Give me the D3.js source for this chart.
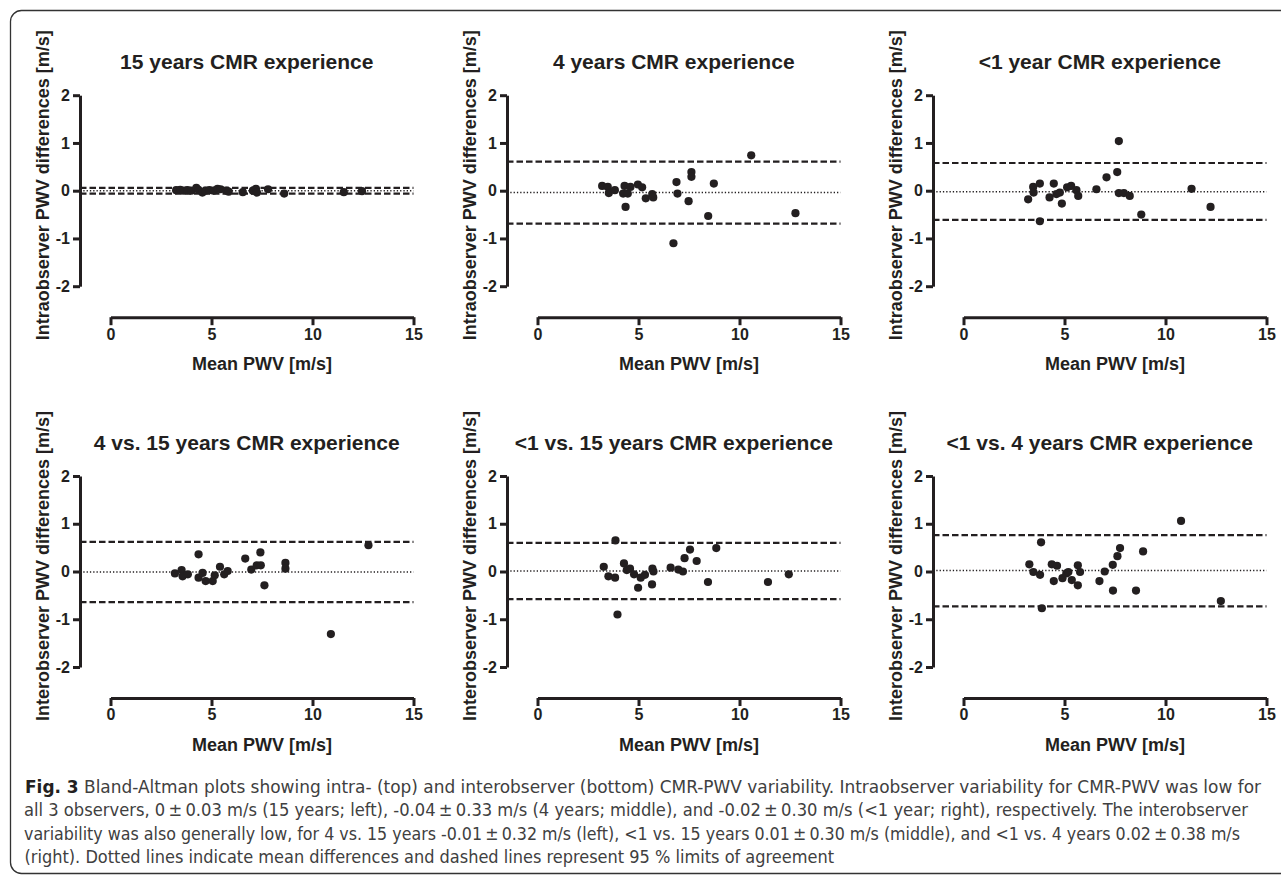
<!DOCTYPE html>
<html>
<head>
<meta charset="utf-8">
<script src="https://cdn.jsdelivr.net/npm/d3@7"></script>
<style>
  html, body { margin: 0; padding: 0; background: #fff; }
  svg { display: block; }
</style>
</head>
<body>
<svg id="chart" width="1281" height="877"></svg>
<script>
// ---------------- DATA ----------------
const titles = [
  "15 years CMR experience",
  "4 years CMR experience",
  "<1 year CMR experience",
  "4 vs. 15 years CMR experience",
  "<1 vs. 15 years CMR experience",
  "<1 vs. 4 years CMR experience"
];
const yLabels = [
  "Intraobserver PWV differences [m/s]",
  "Intraobserver PWV differences [m/s]",
  "Intraobserver PWV differences [m/s]",
  "Interobserver PWV differences [m/s]",
  "Interobserver PWV differences [m/s]",
  "Interobserver PWV differences [m/s]"
];
const xLabel = "Mean PWV [m/s]";
const xTicks = [0, 5, 10, 15];
const yTicks = [-2, -1, 0, 1, 2];

const meanDiff = [0, -0.04, -0.02, -0.01, 0.01, 0.02];
const upperLoA = [0.06, 0.61, 0.58, 0.62, 0.60, 0.76];
const lowerLoA = [-0.06, -0.69, -0.61, -0.64, -0.58, -0.73];

// [mean PWV, difference]
const pts15 = [[3.25,0.01],[3.45,0.02],[3.6,0.0],[3.8,0.01],[4.0,0.0],[4.25,0.06],[4.35,0.02],[4.55,-0.04],[4.7,0.0],[4.9,0.01],[5.1,0.0],[5.3,0.04],[5.45,0.03],[5.75,0.0],[5.85,-0.02],[6.55,-0.03],[7.05,0.0],[7.2,0.04],[7.25,-0.04],[7.8,0.03],[8.6,-0.06],[11.55,-0.03],[12.45,-0.01]];
const pts4 = [[3.20,0.10],[3.48,0.08],[3.53,-0.05],[3.83,0.01],[4.31,0.10],[4.24,-0.06],[4.47,-0.06],[4.60,0.08],[4.36,-0.34],[4.97,0.13],[5.18,0.07],[5.36,-0.16],[5.68,-0.07],[5.73,-0.14],[6.88,0.18],[6.93,-0.06],[6.73,-1.10],[7.48,-0.22],[7.62,0.39],[7.62,0.29],[8.73,0.15],[8.45,-0.53],[10.58,0.74],[12.77,-0.47]];
const ptsLt1 = [[7.69,1.04],[7.61,0.39],[7.08,0.28],[6.58,0.03],[7.69,-0.05],[7.94,-0.05],[8.23,-0.11],[8.80,-0.50],[11.29,0.04],[12.23,-0.34],[3.20,-0.18],[3.45,0.08],[3.47,-0.04],[3.78,0.15],[3.78,-0.64],[4.26,-0.14],[4.47,0.15],[4.60,-0.07],[4.77,-0.04],[4.87,-0.27],[5.13,0.07],[5.33,0.10],[5.59,0.01],[5.68,-0.11]];
const pts4v15 = [[3.19,-0.04],[3.52,0.03],[3.57,-0.10],[3.83,-0.06],[4.36,0.36],[4.36,-0.13],[4.56,-0.03],[4.71,-0.20],[5.06,-0.20],[5.16,-0.08],[5.42,0.10],[5.63,-0.06],[5.80,0.01],[6.67,0.27],[6.97,0.04],[7.24,0.13],[7.44,0.13],[7.42,0.40],[7.62,-0.29],[8.66,0.18],[8.66,0.06],[10.91,-1.31],[12.77,0.55]];
const ptsLt1v15 = [[3.86,0.65],[3.28,0.10],[3.51,-0.10],[3.84,-0.13],[3.96,-0.90],[4.28,0.17],[4.42,0.03],[4.58,0.06],[4.78,-0.06],[4.98,-0.34],[5.11,-0.13],[5.32,-0.07],[5.69,0.06],[5.74,0.00],[5.67,-0.27],[6.59,0.08],[6.97,0.04],[7.20,0.00],[7.28,0.28],[7.55,0.46],[7.88,0.22],[8.44,-0.22],[8.85,0.49],[11.41,-0.22],[12.44,-0.06]];
const ptsLt1v4 = [[10.77,1.06],[3.84,0.61],[3.26,0.15],[3.46,-0.01],[3.79,-0.07],[3.88,-0.77],[4.37,0.15],[4.63,0.12],[4.47,-0.20],[4.90,-0.14],[5.09,-0.04],[5.19,-0.01],[5.36,-0.18],[5.66,0.13],[5.77,-0.01],[5.66,-0.29],[6.73,-0.20],[6.99,0.00],[7.39,0.14],[7.62,0.32],[7.75,0.49],[7.40,-0.40],[8.54,-0.40],[8.89,0.42],[12.74,-0.62]];
const panelPoints = [pts15, pts4, ptsLt1, pts4v15, ptsLt1v15, ptsLt1v4];

const captionLines = [
  "Bland-Altman plots showing intra- (top) and interobserver (bottom) CMR-PWV variability. Intraobserver variability for CMR-PWV was low for",
  "all 3 observers, 0\u2009\u00b1\u20090.03 m/s (15 years; left), -0.04\u2009\u00b1\u20090.33 m/s (4 years; middle), and -0.02\u2009\u00b1\u20090.30 m/s (<1 year; right), respectively. The interobserver",
  "variability was also generally low, for 4 vs. 15 years -0.01\u2009\u00b1\u20090.32 m/s (left), <1 vs. 15 years 0.01\u2009\u00b1\u20090.30 m/s (middle), and <1 vs. 4 years 0.02\u2009\u00b1\u20090.38 m/s",
  "(right). Dotted lines indicate mean differences and dashed lines represent 95 % limits of agreement"
];

// ---------------- LAYOUT ----------------
const ink = "#231f20";
const font = "'Liberation Sans', Arial, Helvetica, sans-serif";
const colAxisX = [80, 507, 933];
const rowZeroY = [190.7, 571.5];

const svg = d3.select("#chart");

// frame
svg.append("rect")
  .attr("x", 10.5).attr("y", 10.5)
  .attr("width", 1300).attr("height", 863)
  .attr("rx", 11).attr("ry", 11)
  .attr("fill", "none").attr("stroke", "#333").attr("stroke-width", 1.3);

panelPoints.forEach((pts, i) => {
  const col = i % 3, row = Math.floor(i / 3);
  const ax = colAxisX[col];
  const zy = rowZeroY[row];
  const x = d3.scaleLinear().domain([0, 15]).range([ax + 30.5, ax + 333.5]);
  const y = d3.scaleLinear().domain([-2, 2]).range([zy + 95.5, zy - 95.5]);
  const g = svg.append("g");

  // reference lines
  const lineX1 = ax, lineX2 = x(15);
  [upperLoA[i], lowerLoA[i]].forEach(v => {
    g.append("line")
      .attr("x1", lineX1).attr("x2", lineX2)
      .attr("y1", y(v)).attr("y2", y(v))
      .attr("stroke", ink).attr("stroke-width", 2.2)
      .attr("stroke-dasharray", "6.5,3");
  });
  g.append("line")
    .attr("x1", lineX1).attr("x2", lineX2)
    .attr("y1", y(meanDiff[i])).attr("y2", y(meanDiff[i]))
    .attr("stroke", ink).attr("stroke-width", 1.5)
    .attr("stroke-dasharray", "1.3,2");

  // points
  g.selectAll("circle.pt").data(pts).enter().append("circle")
    .attr("class", "pt")
    .attr("cx", d => x(d[0])).attr("cy", d => y(d[1]))
    .attr("r", 4.1).attr("fill", ink);

  // y axis
  const yAxis = g.append("g")
    .attr("transform", `translate(${ax},0)`)
    .call(d3.axisLeft(y).tickValues(yTicks).tickSize(7).tickSizeOuter(0).tickPadding(3).tickFormat(d3.format("d")));
  // x axis
  const xAxis = g.append("g")
    .attr("transform", `translate(0,${zy + 126.5})`)
    .call(d3.axisBottom(x).tickValues(xTicks).tickSize(8).tickSizeOuter(0).tickPadding(3).tickFormat(d3.format("d")));
  [yAxis, xAxis].forEach(a => {
    a.select(".domain").attr("stroke", ink).attr("stroke-width", 3);
    a.selectAll(".tick line").attr("stroke", ink).attr("stroke-width", 3);
    a.selectAll(".tick text")
      .attr("fill", ink)
      .style("font-family", font).style("font-weight", "bold").style("font-size", "16px");
  });
  yAxis.selectAll(".tick text").text(d => d < 0 ? "-" + Math.abs(d) : d);

  // title
  g.append("text")
    .attr("x", (ax + x(15)) / 2).attr("y", zy - 121.5)
    .attr("text-anchor", "middle")
    .attr("fill", ink)
    .style("font-family", font).style("font-weight", "bold").style("font-size", "21px")
    .text(titles[i]);

  // x label
  g.append("text")
    .attr("x", (x(0) + x(15)) / 2).attr("y", zy + 179.5)
    .attr("text-anchor", "middle")
    .attr("fill", ink)
    .style("font-family", font).style("font-weight", "bold").style("font-size", "18px")
    .text(xLabel);

  // y label
  g.append("text")
    .attr("transform", `translate(${ax - 31},${zy - 5.5}) rotate(-90)`)
    .attr("text-anchor", "middle")
    .attr("fill", ink)
    .style("font-family", font).style("font-weight", "bold").style("font-size", "18px")
    .text(yLabels[i]);
});

// ---------------- CAPTION ----------------
const capFont = "'Liberation Sans Narrow', 'DejaVu Sans Condensed', 'Open Sans', sans-serif";
const capBase = [792.5, 816, 839.5, 863];
const capStart = [25, 24, 24, 24.5];
const capEnd = [1261, 1248, 1240, 834];
captionLines.forEach((t, k) => {
  const tx = svg.append("text")
    .attr("x", capStart[k]).attr("y", capBase[k])
    .attr("fill", "#404040")
    .style("font-family", capFont).style("font-size", "17px")
    .style("font-stretch", "condensed")
    .attr("textLength", capEnd[k] - capStart[k])
    .attr("lengthAdjust", "spacingAndGlyphs");
  if (k === 0) {
    tx.append("tspan").style("font-weight", "bold").attr("fill", "#231f20").text("Fig. 3");
    tx.append("tspan").text(" " + t);
  } else {
    tx.text(t);
  }
});
</script>
</body>
</html>
